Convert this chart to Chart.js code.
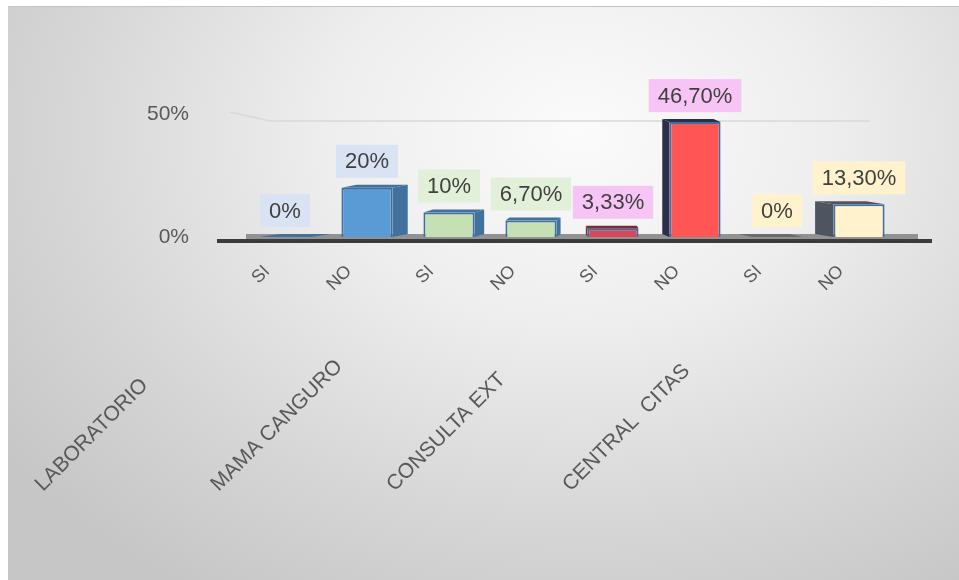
<!DOCTYPE html>
<html>
<head>
<meta charset="utf-8">
<script src="https://cdn.jsdelivr.net/npm/chart.js@4.4.1/dist/chart.umd.min.js"></script>
<style>
    body { margin: 0; background: #ffffff; }
    #panel {
        position: absolute; left: 8px; top: 6px; width: 951px; height: 574px;
        background: radial-gradient(ellipse 75% 95% at 60% 22%, #fbfbfb 0%, #eeeeee 35%, #d6d6d6 72%, #c6c6c6 100%);
        border-top: 1px solid #c4c4c4;
        box-sizing: border-box;
    }
    #wrap { position: absolute; left: 0; top: 0; width: 959px; height: 580px; }
</style>
</head>
<body>
<div id="panel"></div>
<div id="wrap"><canvas id="barChart"></canvas></div>
<script>
// ===== DATA =====
var groups = ['LABORATORIO', 'MAMA CANGURO', 'CONSULTA EXT', 'CENTRAL  CITAS'];
var answers = ['SI', 'NO', 'SI', 'NO', 'SI', 'NO', 'SI', 'NO'];
var percentages = [0, 20, 10, 6.7, 3.33, 46.7, 0, 13.3];
var valueLabels = ['0%', '20%', '10%', '6,70%', '3,33%', '46,70%', '0%', '13,30%'];
var yTicks = [0, 50];

// ===== STYLES =====
var frontColors = ['#5b9bd5', '#5b9bd5', '#c5e0b4', '#c5e0b4', '#d9475a', '#ff5555', '#fff2cc', '#fff2cc'];
var sideColors = ['#41719c', '#41719c', '#41719c', '#41719c', '#7a2a3a', '#2d2f4a', '#6b6b6b', '#4e5560'];
var boxColors = ['#dae3f3', '#e2f0d9', '#f7c5f5', '#fff2cc'];
var textColor = '#595959';
var fontName = '"Liberation Sans", Arial, sans-serif';

// ===== FLOOR + BACK GRID =====
var floorPlugin = {
    id: 'floor',
    beforeDatasetsDraw: function(chart) {
        var ctx = chart.ctx;
        var area = chart.chartArea;
        var y50 = chart.scales.y.getPixelForValue(50);
        ctx.save();
        // 50% grid line on the back wall
        ctx.strokeStyle = '#d9d9d9';
        ctx.lineWidth = 1.5;
        ctx.beginPath();
        ctx.moveTo(area.left - 14, y50 - 2);
        ctx.lineTo(area.left + 26, y50 + 7);
        ctx.lineTo(area.right - 30, y50 + 7);
        ctx.stroke();
        // floor
        ctx.fillStyle = '#929292';
        ctx.fillRect(area.left + 2, area.bottom - 3, area.width + 16, 5);
        ctx.fillStyle = '#3b3b3b';
        ctx.fillRect(area.left - 27, area.bottom + 2, area.width + 59, 4);
        ctx.restore();
    }
};

// ===== 3D SIDES =====
var depthPlugin = {
    id: 'depth3d',
    afterDatasetsDraw: function(chart) {
        var ctx = chart.ctx;
        var area = chart.chartArea;
        var meta = chart.getDatasetMeta(0);
        var vanishX = area.left + area.width * 0.527;
        ctx.save();
        for (var i = 0; i < meta.data.length; i++) {
            var bar = meta.data[i];
            var p = bar.getProps(['x', 'y', 'base', 'width']);
            var left = p.x - p.width / 2;
            var right = p.x + p.width / 2;
            var dx = (vanishX - p.x) * 0.068;
            var rise = 3;
            ctx.fillStyle = sideColors[i];
            // side face
            var edge = dx > 0 ? right : left;
            ctx.beginPath();
            ctx.moveTo(edge, p.y);
            ctx.lineTo(edge + dx, p.y - rise);
            ctx.lineTo(edge + dx, p.base - rise);
            ctx.lineTo(edge, p.base);
            ctx.closePath();
            ctx.fill();
            // top face
            ctx.beginPath();
            ctx.moveTo(left, p.y);
            ctx.lineTo(left + dx, p.y - rise);
            ctx.lineTo(right + dx, p.y - rise);
            ctx.lineTo(right, p.y);
            ctx.closePath();
            ctx.fill();
        }
        ctx.restore();
    }
};

// ===== VALUE + GROUP LABELS =====
var labelPlugin = {
    id: 'labels',
    afterDraw: function(chart) {
        var ctx = chart.ctx;
        var meta = chart.getDatasetMeta(0);
        var area = chart.chartArea;
        ctx.save();
        ctx.font = '22px ' + fontName;
        ctx.textAlign = 'center';
        ctx.textBaseline = 'middle';
        for (var i = 0; i < meta.data.length; i++) {
            var p = meta.data[i].getProps(['x', 'y']);
            var w = ctx.measureText(valueLabels[i]).width + 18;
            var h = 33;
            var bottom = p.y - 10;
            ctx.fillStyle = boxColors[Math.floor(i / 2)];
            ctx.fillRect(p.x - w / 2, bottom - h, w, h);
            ctx.fillStyle = '#404040';
            ctx.fillText(valueLabels[i], p.x, bottom - h / 2 + 1);
        }
        // group labels, rotated, starting lower-left of each pair
        ctx.font = '21px ' + fontName;
        ctx.fillStyle = textColor;
        ctx.textAlign = 'left';
        ctx.textBaseline = 'alphabetic';
        for (var g = 0; g < groups.length; g++) {
            var sx = area.left - 201 + g * area.width * 0.268;
            ctx.save();
            ctx.translate(sx, 492);
            ctx.rotate(-Math.PI / 4);
            ctx.fillText(groups[g], 0, 0);
            ctx.restore();
        }
        ctx.restore();
    }
};

// ===== CHART =====
var ctx = document.getElementById('barChart').getContext('2d');
var myChart = new Chart(ctx, {
    type: 'bar',
    data: {
        labels: answers,
        datasets: [{
            data: percentages,
            backgroundColor: frontColors,
            borderColor: '#3f6fa0',
            borderWidth: 2,
            barPercentage: 0.78,
            categoryPercentage: 0.8
        }]
    },
    options: {
        responsive: true,
        maintainAspectRatio: false,
        animation: false,
        layout: { padding: { top: 114, right: 59, left: 0, bottom: 0 } },
        plugins: {
            legend: { display: false },
            tooltip: { enabled: false }
        },
        scales: {
            x: {
                grid: { display: false },
                border: { display: false },
                ticks: {
                    color: textColor,
                    font: { family: fontName, size: 18 },
                    minRotation: 45,
                    maxRotation: 45,
                    labelOffset: -18,
                    padding: 16
                },
                afterFit: function(scale) { scale.height = 343; }
            },
            y: {
                min: 0,
                max: 50,
                grid: { display: false },
                border: { display: false },
                afterBuildTicks: function(scale) {
                    scale.ticks = yTicks.map(function(v) { return { value: v }; });
                },
                ticks: {
                    color: textColor,
                    font: { family: fontName, size: 21 },
                    padding: 47,
                    callback: function(value) { return value + '%'; }
                },
                afterFit: function(scale) { scale.width = 244; }
            }
        }
    },
    plugins: [floorPlugin, depthPlugin, labelPlugin]
});
</script>
</body>
</html>
